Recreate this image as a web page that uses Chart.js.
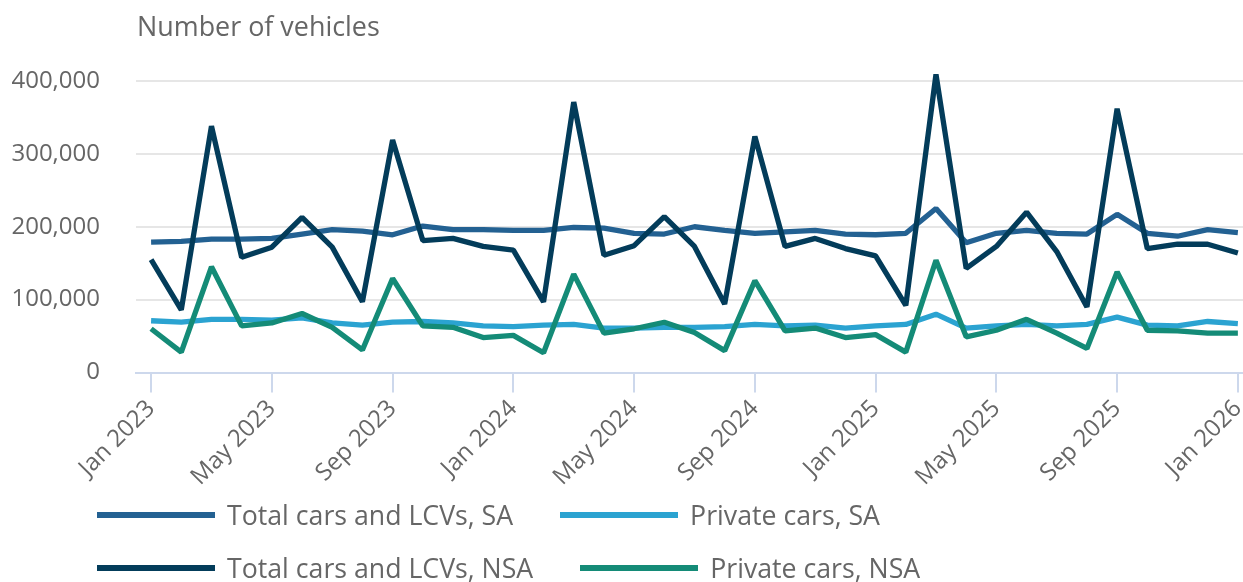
<!DOCTYPE html>
<html>
<head>
<meta charset="utf-8">
<script src="https://cdn.jsdelivr.net/npm/chart.js@4.4.1/dist/chart.umd.min.js"></script>
<style>
    html, body { margin: 0; padding: 0; background: #fff; overflow: hidden; }
    #wrap { position: relative; width: 1243px; height: 582px; font-family: "Open Sans", "Noto Sans", sans-serif; color: #666; }
    #chart-title { position: absolute; left: 137px; top: 8px; font-size: 26.9px; line-height: 36px; color: #666; white-space: nowrap; }
    #legend { position: absolute; left: 97px; top: 500px; }
    .legend-row { display: flex; align-items: center; height: 30px; margin-bottom: 23px; }
    .legend-item { display: flex; align-items: center; margin-right: 47px; }
    .legend-swatch { width: 118px; height: 6px; margin-right: 12px; }
    .legend-text { font-size: 26.7px; line-height: 30px; color: #666; white-space: nowrap; }
</style>
</head>
<body>
<div id="wrap">
    <canvas id="main-chart" width="1243" height="582"></canvas>
    <div id="chart-title">Number of vehicles</div>
    <div id="legend"></div>
</div>
<script>
// --- 数据区域 ---
const months = [];
const monthNames = ['Jan', 'Feb', 'Mar', 'Apr', 'May', 'Jun', 'Jul', 'Aug', 'Sep', 'Oct', 'Nov', 'Dec'];
for (let y = 2023; y <= 2026; y++) {
    monthNames.forEach(m => months.push(`${m} ${y}`));
}
months.length = 37; // Jan 2023 .. Jan 2026

const totalSA = [179000, 180000, 183000, 183000, 184000, 190000, 196000, 194000, 189000, 201000, 196000, 196000, 195000,
    195000, 199000, 198000, 191000, 190000, 200000, 195000, 191000, 193000, 195000, 190000,
    189000, 191000, 225000, 178000, 191000, 195000, 191000, 190000, 217000, 191000, 187000, 196000, 192000];
const privateSA = [71000, 69000, 73000, 73000, 72000, 75000, 68000, 65000, 69000, 70000, 68000, 64000, 63000,
    65000, 66000, 61000, 61000, 62000, 62000, 63000, 66000, 64000, 65000, 61000,
    64000, 66000, 80000, 61000, 64000, 66000, 64000, 66000, 76000, 65000, 64000, 70000, 67000];
const totalNSA = [155000, 86000, 338000, 158000, 172000, 213000, 172000, 97000, 319000, 181000, 184000, 173000, 168000,
    97000, 371000, 161000, 174000, 214000, 173000, 94000, 324000, 173000, 184000, 170000,
    160000, 92000, 409000, 143000, 173000, 220000, 166000, 90000, 362000, 170000, 176000, 176000, 164000];
const privateNSA = [60000, 28000, 145000, 64000, 68000, 81000, 62000, 31000, 129000, 64000, 62000, 48000, 51000,
    27000, 135000, 54000, 60000, 69000, 55000, 30000, 126000, 57000, 61000, 48000,
    52000, 28000, 154000, 49000, 58000, 73000, 54000, 33000, 138000, 58000, 57000, 54000, 54000];

const xTickIndexes = [0, 4, 8, 12, 16, 20, 24, 28, 32, 36];
const yTicks = [0, 100000, 200000, 300000, 400000];

// --- 样式 ---
const colors = {
    totalSA: '#236192',
    privateSA: '#2ba3d1',
    totalNSA: '#033c5a',
    privateNSA: '#148b77',
    grid: '#e6e6e6',
    axis: '#cdd8ec',
    text: '#666666'
};

const toPoints = arr => arr.map((v, i) => ({ x: i, y: v }));

function makeDataset(label, values, color, order) {
    return {
        label: label,
        data: toPoints(values),
        borderColor: color,
        backgroundColor: color,
        borderWidth: 5.3,
        borderJoinStyle: 'bevel',
        pointRadius: 0,
        tension: 0,
        clip: false,
        order: order
    };
}

const datasets = [
    makeDataset('Total cars and LCVs, SA', totalSA, colors.totalSA, 3),
    makeDataset('Private cars, SA', privateSA, colors.privateSA, 2),
    makeDataset('Total cars and LCVs, NSA', totalNSA, colors.totalNSA, 1),
    makeDataset('Private cars, NSA', privateNSA, colors.privateNSA, 0)
];

const tickFont = { family: '"Open Sans", "Noto Sans", sans-serif', size: 24 };

const mainChart = new Chart(document.getElementById('main-chart'), {
    type: 'line',
    data: { datasets: datasets },
    options: {
        responsive: false,
        animation: false,
        layout: { padding: { top: 81, right: 0, bottom: 0, left: 0 } },
        plugins: {
            legend: { display: false },
            tooltip: { enabled: false }
        },
        scales: {
            x: {
                type: 'linear',
                min: -0.5,
                max: 36.17,
                afterFit: s => {
                    s.height = 209.5;
                    s.paddingLeft = 0;
                    s.paddingRight = 0;
                },
                afterBuildTicks: s => { s.ticks = xTickIndexes.map(v => ({ value: v })); },
                grid: { display: true, drawOnChartArea: false, drawTicks: true, tickLength: 20, color: colors.axis, lineWidth: 2 },
                border: { display: true, color: colors.axis, width: 2 },
                ticks: {
                    autoSkip: false,
                    minRotation: 45,
                    maxRotation: 45,
                    padding: 2,
                    color: colors.text,
                    font: tickFont,
                    callback: v => months[v]
                }
            },
            y: {
                min: 0,
                max: 400000,
                afterFit: s => { s.width = 136; },
                afterBuildTicks: s => { s.ticks = yTicks.map(v => ({ value: v })); },
                grid: { color: colors.grid, lineWidth: 2, drawTicks: false },
                border: { display: false },
                ticks: {
                    padding: 36,
                    color: colors.text,
                    font: tickFont,
                    callback: v => v.toLocaleString('en-US')
                }
            }
        }
    }
});

// --- 图例 (两行) ---
const legendEl = document.getElementById('legend');
[[0, 1], [2, 3]].forEach(row => {
    const rowEl = document.createElement('div');
    rowEl.className = 'legend-row';
    row.forEach(i => {
        const ds = datasets[i];
        rowEl.innerHTML += `
            <div class="legend-item">
                <span class="legend-swatch" style="background:${ds.borderColor}"></span>
                <span class="legend-text">${ds.label}</span>
            </div>`;
    });
    legendEl.appendChild(rowEl);
});
</script>
</body>
</html>
